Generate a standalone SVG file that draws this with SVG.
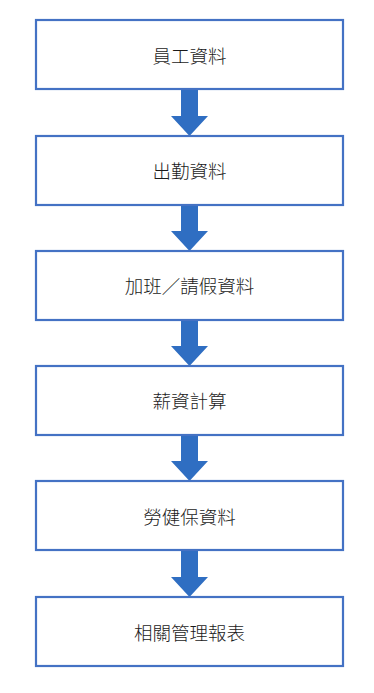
<svg xmlns="http://www.w3.org/2000/svg" width="374" height="693" viewBox="0 0 374 693">
<style>
.box{fill:#fff;stroke:#4472C4;stroke-width:2.2}
.lbl{font-family:"Noto Sans CJK TC","Noto Sans CJK SC",sans-serif;font-size:18.5px;font-weight:300;fill:#1a1a1a;text-anchor:middle;dominant-baseline:central}
.arr{fill:#2F6EC2}
</style>
<rect width="374" height="693" fill="#fff"/>
<g id="connectors">
<path class="arr" d="M181,89H198V116H208L189.5,136L171,116H181Z"/>
<path class="arr" d="M181,205H198V231H208L189.5,251L171,231H181Z"/>
<path class="arr" d="M181,320H198V346H208L189.5,366L171,346H181Z"/>
<path class="arr" d="M181,435H198V461H208L189.5,481L171,461H181Z"/>
<path class="arr" d="M181,550H198V577H208L189.5,597L171,577H181Z"/>
</g>
<g id="n1"><rect class="box" x="36" y="20" width="307" height="69"/><text class="lbl" x="189.5" y="55">員工資料</text></g>
<g id="n2"><rect class="box" x="36" y="136" width="307" height="69"/><text class="lbl" x="189.5" y="170">出勤資料</text></g>
<g id="n3"><rect class="box" x="36" y="251" width="307" height="69"/><text class="lbl" x="189.5" y="285">加班／請假資料</text></g>
<g id="n4"><rect class="box" x="36" y="366" width="307" height="69"/><text class="lbl" x="189.5" y="400">薪資計算</text></g>
<g id="n5"><rect class="box" x="36" y="481" width="307" height="69"/><text class="lbl" x="189.5" y="516">勞健保資料</text></g>
<g id="n6"><rect class="box" x="36" y="597" width="307" height="69"/><text class="lbl" x="189.5" y="632">相關管理報表</text></g>
</svg>
